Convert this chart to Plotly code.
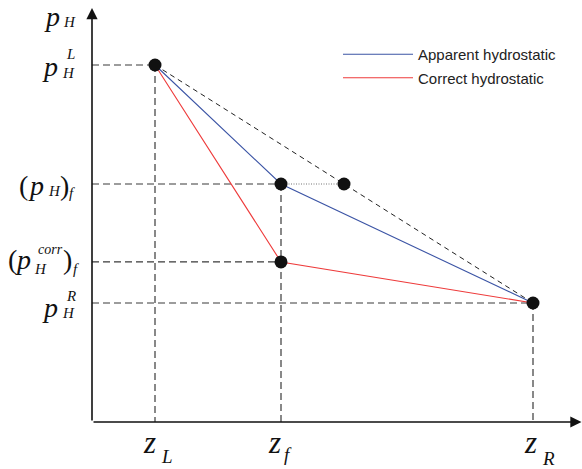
import plotly.graph_objects as go

# ---- data ----
z_names = ["L", "f", "R"]
z_vals = [1.0, 3.0, 7.0]          # z_L, z_f, z_R
p_L = 3.0
p_f = 2.0
p_corr = 1.345
p_R = 1.0
z_ext = 4.0                        # extension point of (p_H)_f on the L-R chord

apparent_x = [z_vals[0], z_vals[1], z_vals[2]]
apparent_y = [p_L, p_f, p_R]
correct_x = [z_vals[0], z_vals[1], z_vals[2]]
correct_y = [p_L, p_corr, p_R]

legend_names = ["Apparent hydrostatic", "Correct hydrostatic"]

BLUE = "#3b54a5"
RED = "#ee3b3b"
DASH = "#3a3a3a"

fig = go.Figure()

def dashed(xs, ys, color=DASH, dash="7px,4px", width=1.2):
    fig.add_trace(go.Scatter(x=xs, y=ys, mode="lines", showlegend=False, hoverinfo="skip",
                             line=dict(color=color, width=width, dash=dash)))

# horizontal guides
dashed([0, z_vals[0]], [p_L, p_L])
dashed([0, z_vals[1]], [p_f, p_f])
dashed([0, z_vals[1]], [p_corr, p_corr])
dashed([0, z_vals[2]], [p_R, p_R])
# vertical guides
dashed([z_vals[0], z_vals[0]], [p_L, 0])
dashed([z_vals[1], z_vals[1]], [p_f, 0])
dashed([z_vals[2], z_vals[2]], [p_R, 0])
# chord L-R
dashed([z_vals[0], z_vals[2]], [p_L, p_R], color="#222", dash="5px,4px", width=1.0)
# dotted extension
dashed([z_vals[1], z_ext], [p_f, p_f], color="#777", dash="1px,1.5px", width=1.2)

fig.add_trace(go.Scatter(x=apparent_x, y=apparent_y, mode="lines", name=legend_names[0],
                         legendgroup="a", line=dict(color=BLUE, width=1.1)))
fig.add_trace(go.Scatter(x=correct_x, y=correct_y, mode="lines", name=legend_names[1],
                         legendgroup="b", line=dict(color=RED, width=1.1)))

# markers
fig.add_trace(go.Scatter(x=[z_vals[0], z_vals[1], z_ext, z_vals[1], z_vals[2]],
                         y=[p_L, p_f, p_f, p_corr, p_R], mode="markers", showlegend=False,
                         marker=dict(color="#111", size=13)))

# axes with arrows
fig.add_annotation(x=0, y=3.479, ax=0, ay=0, xref="x", yref="y", axref="x", ayref="y",
                   showarrow=True, arrowhead=2, arrowwidth=1.6, arrowsize=1.4, arrowcolor="#111", text="")
fig.add_annotation(x=7.77, y=0, ax=0, ay=0, xref="x", yref="y", axref="x", ayref="y",
                   showarrow=True, arrowhead=2, arrowwidth=1.6, arrowsize=1.4, arrowcolor="#111", text="")

SERIF = "Liberation Serif"

def lab(text, x, y, xs, ys, size, xanchor, xref="x", yref="y", italic=True):
    fig.add_annotation(text=text, x=x, y=y, xref=xref, yref=yref, xshift=xs, yshift=ys,
                       showarrow=False, xanchor=xanchor, yanchor="middle",
                       font=dict(family=SERIF, size=size, color="#111",
                                 style="italic" if italic else "normal"))

BIG = 28
SM = 15
# y-axis title p_H
lab("p", 0, 1, -30, -16, BIG, "right", yref="paper")
lab("H", 0, 1, -31, -22, SM, "left", yref="paper")
# p_H^L
lab("p", 0, p_L, -32, -1, BIG, "right")
lab("H", 0, p_L, -32, -8, SM, "left")
lab("L", 0, p_L, -28, 11, SM, "left")
# (p_H)_f
lab("(", 0, p_f, -75, -1, BIG, "left", italic=False)
lab("p", 0, p_f, -46, -1, BIG, "right")
lab("H", 0, p_f, -46, -7, SM, "left")
lab(")", 0, p_f, -34, -1, BIG, "left", italic=False)
lab("f", 0, p_f, -25, -9, SM, "left")
# (p_H^corr)_f
lab("(", 0, p_corr, -86, 2, BIG, "left", italic=False)
lab("p", 0, p_corr, -59, 2, BIG, "right")
lab("H", 0, p_corr, -60, -7, SM, "left")
lab("corr", 0, p_corr, -56, 12, 14, "left")
lab(")", 0, p_corr, -31, 2, BIG, "left", italic=False)
lab("f", 0, p_corr, -21, -7, SM, "left")
# p_H^R
lab("p", 0, p_R, -32, -4, BIG, "right")
lab("H", 0, p_R, -32, -10, SM, "left")
lab("R", 0, p_R, -28, 7, SM, "left")

# x labels
zx_off = {"L": (3, 4, -34), "f": (2, 1, -32), "R": (6, 7, -36)}
for name, zv in zip(z_names, z_vals):
    zr, sl, sy = zx_off[name]
    lab("z", zv, 0, zr, -20, 31, "right")
    lab(name, zv, 0, sl, sy, 19, "left")

fig.update_layout(
    width=582, height=469,
    margin=dict(l=0, r=0, t=0, b=0),
    paper_bgcolor="white", plot_bgcolor="white",
    xaxis=dict(range=[-92 / 63, 490 / 63], visible=False, fixedrange=True),
    yaxis=dict(range=[-47 / 119, 422 / 119], visible=False, fixedrange=True),
    showlegend=True,
    legend=dict(x=338 / 582, y=1 - 38 / 469, xanchor="left", yanchor="top",
                itemwidth=70, tracegroupgap=1,
                bgcolor="rgba(0,0,0,0)", font=dict(family="Liberation Sans", size=15, color="#222")),
)

fig.write_html("out.html")
